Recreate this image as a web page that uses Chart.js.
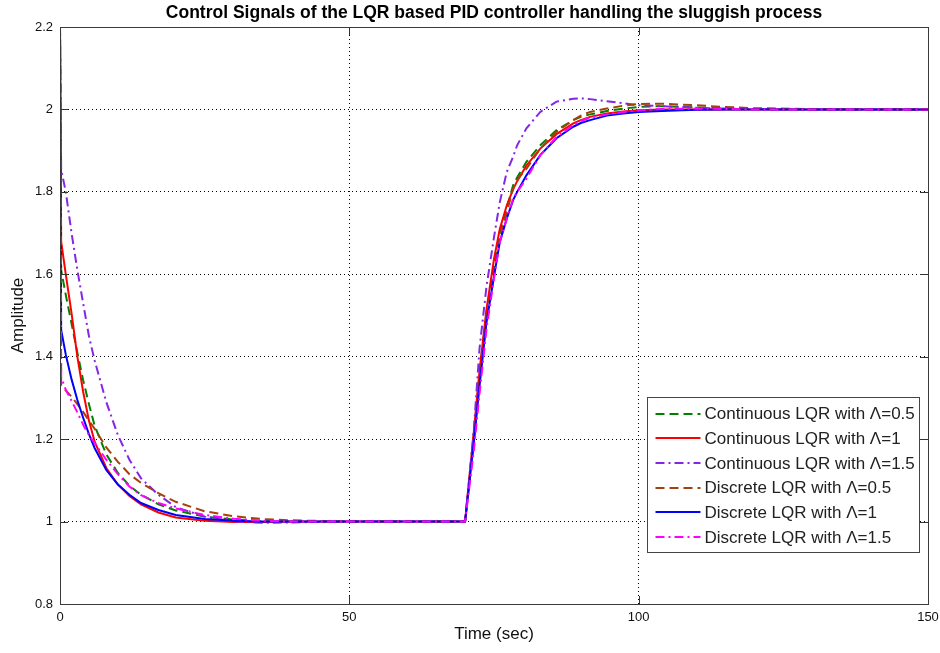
<!DOCTYPE html>
<html><head><meta charset="utf-8">
<script src="https://cdn.jsdelivr.net/npm/chart.js@4.4.1/dist/chart.umd.min.js"></script>
<style>html,body{margin:0;padding:0;background:#fff;}</style>
</head><body>
<canvas id="c" width="940" height="653"></canvas>
<script>
// ---- data ----
const times = [0, 0.2, 1, 2, 3, 4, 5, 6, 8, 10, 12, 14, 17, 20, 25, 30, 35, 40, 50, 60,
  70, 71.5, 72.5, 73.7, 75, 76, 77.2, 78.3, 79, 80.6, 83, 85.8, 88.7, 90, 91.6, 94.5, 97.3, 100, 104, 110,
  115, 120, 130, 150];

const contLambda05 = [2.2, 1.61, 1.55, 1.48, 1.41, 1.343, 1.285, 1.232, 1.163, 1.118, 1.087, 1.065, 1.042, 1.027, 1.012, 1.005, 1.001, 1.0, 1, 1,
  1, 1.21, 1.36, 1.507, 1.62, 1.702, 1.76, 1.816, 1.835, 1.873, 1.913, 1.95, 1.974, 1.982, 1.988, 1.996, 2.002, 2.006, 2.008, 2.005,
  2.003, 2.001, 2, 2];
const contLambda1 = [2.2, 1.68, 1.60, 1.505, 1.40, 1.315, 1.245, 1.193, 1.13, 1.09, 1.062, 1.042, 1.022, 1.01, 1.002, 0.999, 0.999, 1.0, 1, 1,
  1, 1.215, 1.365, 1.515, 1.637, 1.71, 1.767, 1.806, 1.826, 1.864, 1.905, 1.94, 1.966, 1.974, 1.982, 1.99, 1.995, 1.998, 2.0, 2,
  2, 2, 2, 2];
const contLambda15 = [2.2, 1.854, 1.80, 1.70, 1.61, 1.53, 1.45, 1.39, 1.29, 1.21, 1.15, 1.105, 1.065, 1.035, 1.012, 1.0, 0.997, 0.998, 1.0, 1,
  1, 1.22, 1.42, 1.57, 1.69, 1.775, 1.848, 1.885, 1.913, 1.954, 1.994, 2.019, 2.026, 2.027, 2.025, 2.02, 2.015, 2.01, 2.008, 2.004,
  2.002, 2.001, 2, 2];
const discLambda05 = [2.2, 1.33, 1.318, 1.303, 1.285, 1.266, 1.245, 1.225, 1.18, 1.145, 1.115, 1.094, 1.069, 1.048, 1.025, 1.013, 1.006, 1.003, 1.0, 1,
  1, 1.19, 1.34, 1.491, 1.60, 1.686, 1.75, 1.808, 1.83, 1.856, 1.905, 1.946, 1.974, 1.985, 1.994, 2.002, 2.009, 2.013, 2.014, 2.01,
  2.006, 2.003, 2.001, 2];
const discLambda1 = [2.2, 1.465, 1.405, 1.345, 1.295, 1.252, 1.212, 1.178, 1.125, 1.09, 1.065, 1.045, 1.028, 1.016, 1.006, 1.002, 1.0, 1, 1, 1,
  1, 1.19, 1.33, 1.483, 1.595, 1.678, 1.735, 1.78, 1.80, 1.84, 1.889, 1.93, 1.958, 1.967, 1.974, 1.985, 1.99, 1.994, 1.996, 1.999,
  2, 2, 2, 2];
const discLambda15 = [2.2, 1.35, 1.32, 1.293, 1.265, 1.235, 1.21, 1.19, 1.15, 1.115, 1.085, 1.064, 1.045, 1.032, 1.016, 1.007, 1.002, 1.0, 1, 1,
  1, 1.17, 1.31, 1.467, 1.59, 1.678, 1.735, 1.783, 1.80, 1.832, 1.889, 1.933, 1.962, 1.972, 1.98, 1.988, 1.994, 1.998, 2.001, 2.002,
  2.001, 2, 2, 2];

const seriesNames = [
  'Continuous LQR with \u039B=0.5',
  'Continuous LQR with \u039B=1',
  'Continuous LQR with \u039B=1.5',
  'Discrete LQR with \u039B=0.5',
  'Discrete LQR with \u039B=1',
  'Discrete LQR with \u039B=1.5'
];
const xTicks = [0, 50, 100, 150];
const yTicks = [0.8, 1.0, 1.2, 1.4, 1.6, 1.8, 2.0, 2.2];
const titleText = 'Control Signals of the LQR based PID controller handling the sluggish process';
const xLabel = 'Time (sec)';
const yLabel = 'Amplitude';

// ---- styles ----
const seriesValues = [contLambda05, contLambda1, contLambda15, discLambda05, discLambda1, discLambda15];
const colors = ['#008000', '#ff0000', '#8526e6', '#a3410c', '#0000ff', '#ff00ff'];
const dashes = [[9, 5], [], [9, 4, 2, 4], [9, 5], [], [9, 4, 2, 4]];
const FONT = '"Liberation Sans", Arial, Helvetica, sans-serif';

const datasets = seriesValues.map((vals, i) => ({
  label: seriesNames[i],
  data: times.map((t, k) => ({ x: t, y: vals[k] })),
  borderColor: colors[i],
  backgroundColor: colors[i],
  borderDash: dashes[i],
  borderWidth: 2,
  pointRadius: 0,
  fill: false,
  tension: 0,
  order: seriesValues.length - 1 - i
}));

const near = (a, b) => Math.abs(a - b) < 1e-6;

const frameAndLegend = {
  id: 'frameAndLegend',
  afterDatasetsDraw(chart) {
    const { ctx, chartArea: a, scales } = chart;
    ctx.save();
    // inward ticks
    ctx.strokeStyle = '#333';
    ctx.lineWidth = 1;
    ctx.setLineDash([]);
    const tl = 8;
    ctx.beginPath();
    xTicks.forEach(v => {
      const px = Math.round(scales.x.getPixelForValue(v)) + 0.5;
      ctx.moveTo(px, a.bottom); ctx.lineTo(px, a.bottom - tl);
      ctx.moveTo(px, a.top); ctx.lineTo(px, a.top + tl);
    });
    yTicks.forEach(v => {
      const py = Math.round(scales.y.getPixelForValue(v)) + 0.5;
      ctx.moveTo(a.left, py); ctx.lineTo(a.left + tl, py);
      ctx.moveTo(a.right, py); ctx.lineTo(a.right - tl, py);
    });
    ctx.stroke();
    // frame
    ctx.strokeStyle = '#3a3a3a';
    ctx.strokeRect(Math.round(a.left) + 0.5, Math.round(a.top) + 0.5,
      Math.round(a.right - a.left), Math.round(a.bottom - a.top));

    // legend box
    const w = 272, h = 155;
    const x0 = Math.round(a.right - 9 - w) + 0.5;
    const y0 = Math.round(a.bottom - 52 - h) + 0.5;
    ctx.fillStyle = '#fff';
    ctx.fillRect(x0, y0, w, h);
    ctx.strokeStyle = '#444';
    ctx.lineWidth = 1;
    ctx.strokeRect(x0, y0, w, h);
    ctx.font = '17px ' + FONT;
    ctx.textBaseline = 'middle';
    ctx.textAlign = 'left';
    chart.data.datasets.forEach((ds, i) => {
      const cy = y0 + 16 + i * 24.7;
      ctx.strokeStyle = ds.borderColor;
      ctx.lineWidth = 2;
      ctx.setLineDash(ds.borderDash || []);
      ctx.beginPath();
      ctx.moveTo(x0 + 8, Math.round(cy));
      ctx.lineTo(x0 + 53, Math.round(cy));
      ctx.stroke();
      ctx.setLineDash([]);
      ctx.fillStyle = '#222';
      ctx.fillText(ds.label, x0 + 57, cy + 1);
    });
    ctx.restore();
  }
};

new Chart(document.getElementById('c'), {
  type: 'line',
  data: { datasets },
  plugins: [frameAndLegend],
  options: {
    responsive: false,
    animation: false,
    events: [],
    layout: { padding: { left: 0, right: 12, top: 0, bottom: 0 } },
    plugins: {
      legend: { display: false },
      tooltip: { enabled: false },
      title: {
        display: true,
        fullSize: false,
        text: titleText,
        color: '#000',
        font: { family: FONT, size: 17.5, weight: 'bold', lineHeight: '21px' },
        padding: { top: 3, bottom: 3 }
      }
    },
    scales: {
      x: {
        type: 'linear',
        min: 0, max: 150,
        afterBuildTicks: s => { s.ticks = xTicks.map(v => ({ value: v })); },
        afterFit: s => { s.height = 49; s.paddingLeft = 0; s.paddingRight = 0; },
        ticks: { color: '#111', font: { family: FONT, size: 13 }, padding: 6, maxRotation: 0,
          callback: v => String(v) },
        grid: {
          drawTicks: false,
          lineWidth: 1,
          color: c => (c.tick && (near(c.tick.value, 0) || near(c.tick.value, 150))) ? 'rgba(0,0,0,0)' : '#000'
        },
        border: { display: false, dash: [1, 3] },
        title: { display: true, text: xLabel, color: '#111', font: { family: FONT, size: 17 }, padding: { top: 0, bottom: 8 } }
      },
      y: {
        type: 'linear',
        min: 0.8, max: 2.2,
        afterBuildTicks: s => { s.ticks = yTicks.map(v => ({ value: v })); },
        afterFit: s => { s.width = 60; },
        ticks: { color: '#111', font: { family: FONT, size: 13 }, padding: 7,
          callback: v => String(+Number(v).toFixed(1)) },
        grid: {
          drawTicks: false,
          lineWidth: 1,
          color: c => (c.tick && (near(c.tick.value, 0.8) || near(c.tick.value, 2.2))) ? 'rgba(0,0,0,0)' : '#000'
        },
        border: { display: false, dash: [1, 3] },
        title: { display: true, text: yLabel, color: '#111', font: { family: FONT, size: 17 }, padding: { top: 8, bottom: 0 } }
      }
    }
  }
});
</script>
</body></html>
